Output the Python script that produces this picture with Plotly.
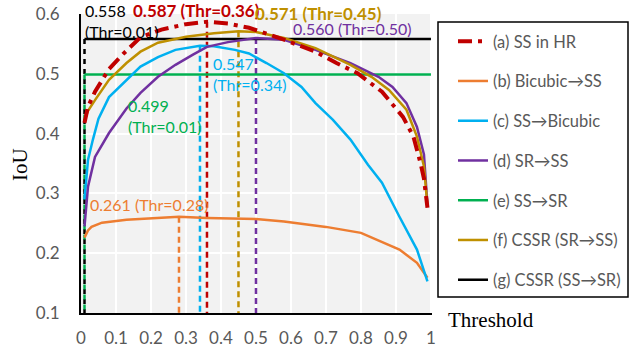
import plotly.graph_objects as go

# ---------------- data ----------------
series_names = ["(a) SS in HR", "(b) Bicubic→SS", "(c) SS→Bicubic", "(d) SR→SS",
                "(e) SS→SR", "(f) CSSR (SR→SS)", "(g) CSSR (SS→SR)"]

a_x = [0.01, 0.02, 0.04, 0.08, 0.12, 0.17, 0.23, 0.30, 0.36, 0.42, 0.48, 0.55, 0.58,
       0.67, 0.73, 0.79, 0.86, 0.92, 0.95, 0.97, 0.98, 0.99]
a_y = [0.418, 0.445, 0.470, 0.508, 0.533, 0.561, 0.574, 0.583, 0.587, 0.584, 0.577, 0.563, 0.557,
       0.537, 0.518, 0.501, 0.470, 0.428, 0.395, 0.351, 0.325, 0.276]

b_x = [0.01, 0.02, 0.03, 0.06, 0.13, 0.22, 0.28, 0.36, 0.50, 0.58, 0.70, 0.80, 0.86, 0.91, 0.96, 0.99]
b_y = [0.226, 0.238, 0.244, 0.251, 0.256, 0.259, 0.261, 0.259, 0.257, 0.253, 0.244, 0.234, 0.219,
       0.206, 0.184, 0.159]

c_x = [0.01, 0.02, 0.034, 0.05, 0.08, 0.13, 0.17, 0.22, 0.27, 0.34, 0.38, 0.44, 0.48, 0.53, 0.58,
       0.63, 0.67, 0.72, 0.77, 0.82, 0.86, 0.91, 0.96, 0.99]
c_y = [0.290, 0.356, 0.390, 0.425, 0.461, 0.490, 0.512, 0.528, 0.540, 0.547, 0.546, 0.540, 0.534,
       0.518, 0.501, 0.478, 0.451, 0.423, 0.390, 0.348, 0.318, 0.261, 0.206, 0.153]

d_x = [0.01, 0.02, 0.04, 0.08, 0.13, 0.17, 0.22, 0.27, 0.32, 0.36, 0.42, 0.47, 0.50, 0.58, 0.67,
       0.77, 0.85, 0.89, 0.93, 0.96, 0.98, 0.99]
d_y = [0.245, 0.311, 0.361, 0.401, 0.442, 0.468, 0.495, 0.515, 0.532, 0.545, 0.553, 0.558, 0.560,
       0.557, 0.540, 0.518, 0.495, 0.478, 0.451, 0.411, 0.365, 0.280]

e_x = [0.01, 1.0]
e_y = [0.499, 0.499]

f_x = [0.01, 0.02, 0.04, 0.08, 0.13, 0.17, 0.22, 0.30, 0.38, 0.45, 0.50, 0.58, 0.67, 0.77, 0.83,
       0.88, 0.93, 0.96, 0.98, 0.99]
f_y = [0.423, 0.438, 0.456, 0.490, 0.518, 0.537, 0.552, 0.562, 0.568, 0.571, 0.570, 0.560, 0.543,
       0.515, 0.495, 0.473, 0.440, 0.395, 0.345, 0.280]

g_x = [0.01, 1.0]
g_y = [0.558, 0.558]

# best threshold / best IoU per series (a..g)
best_thr = [0.36, 0.28, 0.34, 0.50, 0.01, 0.45, 0.01]
best_iou = [0.587, 0.261, 0.547, 0.560, 0.499, 0.571, 0.558]

x_tick_vals = [0, 0.1, 0.2, 0.3, 0.4, 0.5, 0.6, 0.7, 0.8, 0.9, 1.0]
x_tick_text = ["0", "0.1", "0.2", "0.3", "0.4", "0.5", "0.6", "0.7", "0.8", "0.9", "1"]
y_tick_vals = [0.1, 0.2, 0.3, 0.4, 0.5, 0.6]
y_tick_text = ["0.1", "0.2", "0.3", "0.4", "0.5", "0.6"]

# ---------------- style ----------------
colors = ["#C00000", "#ED7D31", "#00B0F0", "#7030A0", "#00B050", "#BF9000", "#000000"]
xs = [a_x, b_x, c_x, d_x, e_x, f_x, g_x]
ys = [a_y, b_y, c_y, d_y, e_y, f_y, g_y]
FONT = "Lato, 'Open Sans', sans-serif"
GRAY = "#595959"
Y0 = 0.1

W, H = 640, 353
L, R, T, B = 81, 208, 14, 40
pw, ph = W - L - R, H - T - B


def px(xp):
    return (xp - L) / pw


def py(yp):
    return (H - B - yp) / ph


fig = go.Figure()

# vertical dashed markers at best thresholds
vorder = [1, 2, 0, 5, 3, 6, 4]
for i in vorder:
    dash = "5px,5px" if i in (4, 6) else "6px,4px"
    fig.add_trace(go.Scatter(x=[best_thr[i], best_thr[i]], y=[best_iou[i], Y0], mode="lines",
                             line=dict(color=colors[i], width=2.5, dash=dash),
                             showlegend=False, hoverinfo="skip"))

# curves (drawing order), legend order by rank
draw_order = [4, 6, 1, 2, 3, 5, 0]
for i in draw_order:
    if i == 0:
        line = dict(color=colors[i], width=4, dash="14px,6px,4px,6px")
    else:
        line = dict(color=colors[i], width=2.5)
    fig.add_trace(go.Scatter(x=xs[i], y=ys[i], mode="lines", name=series_names[i], line=line,
                             legendrank=i + 1, legendgroup=str(i)))

# value labels (pixel placement: left edge, vertical centre, font size)
ann = [
    (6, 84, 21.5, True, False, 16),
    (0, 132, 10, False, True, 17),
    (5, 254, 13, False, True, 17),
    (3, 292, 29, False, False, 16),
    (2, 212, 73.5, True, False, 16),
    (4, 127, 115.5, True, False, 16),
    (1, 89, 204, False, False, 16),
]
for i, axp, ayp, two, bold, fs in ann:
    sep = "<br>" if two else " "
    txt = f"{best_iou[i]:.3f}{sep}(Thr={best_thr[i]:.2f})"
    if bold:
        txt = f"<b>{txt}</b>"
    fig.add_annotation(x=px(axp), y=py(ayp), xref="paper", yref="paper", text=txt, showarrow=False,
                       xanchor="left", yanchor="middle", align="left", borderpad=0,
                       font=dict(family=FONT, size=fs, color=colors[i]))

# axis titles
fig.add_annotation(x=px(20), y=py(164), xref="paper", yref="paper", text="IoU", showarrow=False,
                   textangle=-90, xanchor="center", yanchor="middle",
                   font=dict(family="Liberation Serif, serif", size=21, color="#000"))
fig.add_annotation(x=px(446), y=py(320), xref="paper", yref="paper", text="Threshold",
                   showarrow=False, xanchor="left", yanchor="middle",
                   font=dict(family="Liberation Serif, serif", size=21, color="#000"))

# legend frame
fig.add_shape(type="rect", xref="paper", yref="paper",
              x0=px(438), x1=px(628), y0=py(297), y1=py(22),
              line=dict(color="#000", width=1.5), fillcolor="rgba(0,0,0,0)")

fig.update_layout(
    width=W, height=H,
    margin=dict(l=L, r=R, t=T, b=B, autoexpand=False),
    paper_bgcolor="white",
    plot_bgcolor="#F2F2F2",
    showlegend=True,
    legend=dict(x=px(453), y=py(24), xanchor="left", yanchor="top",
                bgcolor="rgba(0,0,0,0)", borderwidth=0,
                font=dict(family=FONT, size=16.5, color=GRAY),
                tracegroupgap=15.3, traceorder="grouped"),
    xaxis=dict(range=[0, 1.003], tickvals=x_tick_vals, ticktext=x_tick_text,
               showgrid=True, gridcolor="white", gridwidth=1.5, zeroline=False,
               showline=True, linecolor="#000", linewidth=2,
               ticks="outside", ticklen=9, tickcolor="rgba(0,0,0,0)",
               tickfont=dict(family=FONT, size=17, color=GRAY)),
    yaxis=dict(range=[0.1, 0.6], tickvals=y_tick_vals, ticktext=y_tick_text,
               showgrid=True, gridcolor="white", gridwidth=1.5, zeroline=False,
               showline=True, linecolor="#000", linewidth=2,
               ticks="outside", ticklen=16, tickcolor="rgba(0,0,0,0)",
               tickfont=dict(family=FONT, size=17, color=GRAY)),
)

fig.write_html("out.html", config={"displayModeBar": False},
               post_script="document.body.style.margin='0px';document.body.style.padding='0px';")
